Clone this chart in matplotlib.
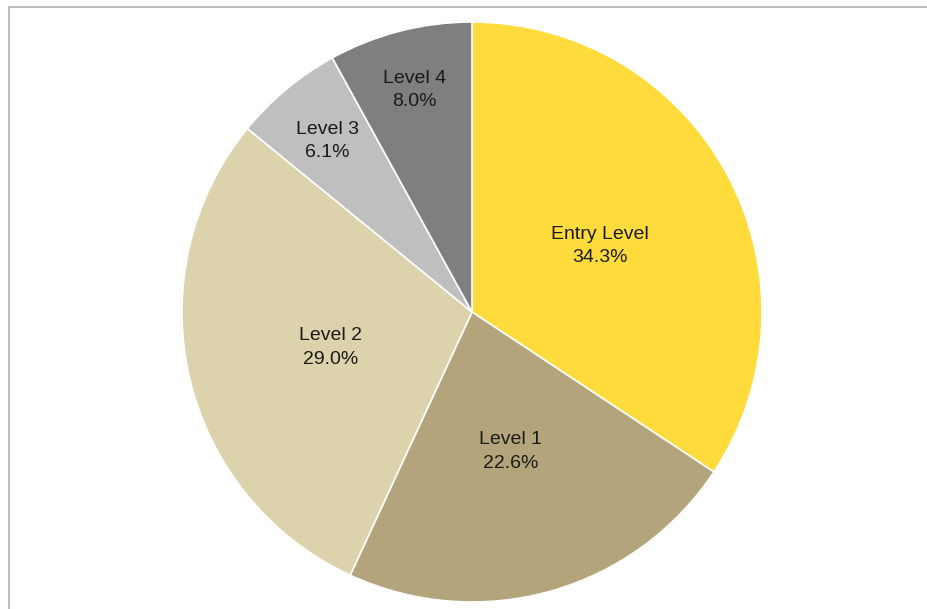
import numpy as np
import matplotlib
matplotlib.use("Agg")
import matplotlib.pyplot as plt
from matplotlib.patches import Rectangle

labels = ["Entry Level", "Level 1", "Level 2", "Level 3", "Level 4"]
shares = [34.3, 22.6, 29.0, 6.1, 8.0]
colors = ["#FFDC3C", "#B3A47B", "#DCD2AB", "#BFBFBF", "#7F7F7F"]
label_dist = [0.50, 0.49, 0.50, 0.78, 0.80]

W, H = 928, 609
fig = plt.figure(figsize=(W / 100, H / 100), dpi=100)
plt.rcParams["font.family"] = ["Liberation Sans", "DejaVu Sans"]

# outer frame (top and left edges visible)
fig.patches.append(Rectangle((9 / W, -0.1), 1.2, (H - 6.5) / H + 0.1,
                             transform=fig.transFigure, fill=False,
                             edgecolor="#C0C0C0", linewidth=1.5))

cx, cy, r = 472, H - 312, 290
ax = fig.add_axes([(cx - r) / W, (cy - r) / H, 2 * r / W, 2 * r / H])
wedges, _ = ax.pie(shares, colors=colors, startangle=90, counterclock=False,
                   radius=1, wedgeprops=dict(edgecolor="white", linewidth=1.2))
ax.set_xlim(-1, 1)
ax.set_ylim(-1, 1)
ax.axis("off")

for w, lab, val, d in zip(wedges, labels, shares, label_dist):
    ang = np.deg2rad((w.theta1 + w.theta2) / 2)
    ax.text(d * np.cos(ang), d * np.sin(ang) - 0.01, f"{lab}\n{val:.1f}%",
            ha="center", va="center", fontsize=14, color="#1A1A1A",
            linespacing=1.5)

fig.savefig("out.png", dpi=100)
